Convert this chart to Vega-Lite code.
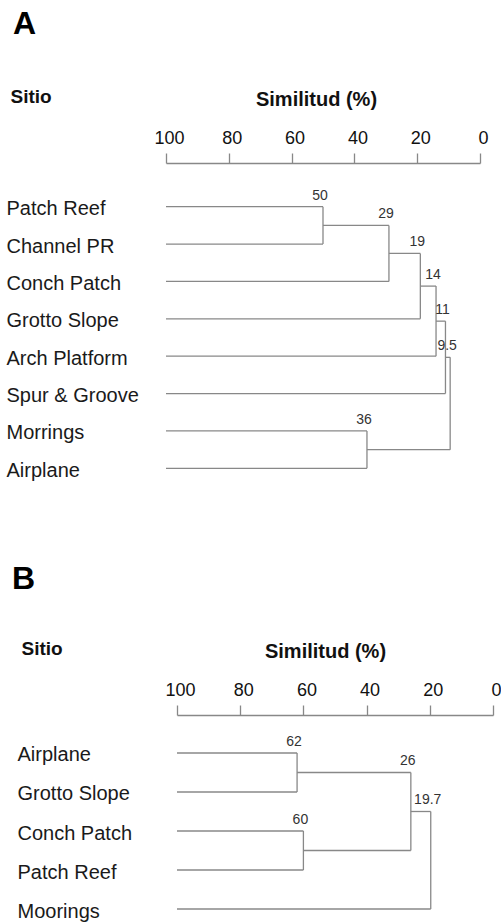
{
  "$schema": "https://vega.github.io/schema/vega-lite/v6.json",
  "background": "white",
  "padding": {"left": 6, "top": 8, "right": 0, "bottom": 0},
  "autosize": {"type": "pad"},
  "config": {"view": {"stroke": null}, "font": "Liberation Sans"},
  "datasets": {
    "leavesA": [
      {"name": "Patch Reef", "h": 100, "ph": 50},
      {"name": "Channel PR", "h": 100, "ph": 50},
      {"name": "Conch Patch", "h": 100, "ph": 29},
      {"name": "Grotto Slope", "h": 100, "ph": 19},
      {"name": "Arch Platform", "h": 100, "ph": 14},
      {"name": "Spur & Groove", "h": 100, "ph": 11},
      {"name": "Morrings", "h": 100, "ph": 36},
      {"name": "Airplane", "h": 100, "ph": 36}
    ],
    "nodesA": [
      {"h": 50, "ph": 29, "ylo": 0, "yhi": 1, "ymid": 0.5},
      {"h": 29, "ph": 19, "ylo": 0.5, "yhi": 2, "ymid": 1.25},
      {"h": 19, "ph": 14, "ylo": 1.25, "yhi": 3, "ymid": 2.125},
      {"h": 14, "ph": 11, "ylo": 2.125, "yhi": 4, "ymid": 3.0625},
      {"h": 11, "ph": 9.5, "ylo": 3.0625, "yhi": 5, "ymid": 4.03125},
      {"h": 36, "ph": 9.5, "ylo": 6, "yhi": 7, "ymid": 6.5},
      {"h": 9.5, "ph": 9.5, "ylo": 4.03125, "yhi": 6.5, "ymid": 5.265625}
    ],
    "leavesB": [
      {"name": "Airplane", "h": 100, "ph": 62},
      {"name": "Grotto Slope", "h": 100, "ph": 62},
      {"name": "Conch Patch", "h": 100, "ph": 60},
      {"name": "Patch Reef", "h": 100, "ph": 60},
      {"name": "Moorings", "h": 100, "ph": 19.7}
    ],
    "nodesB": [
      {"h": 62, "ph": 26, "ylo": 0, "yhi": 1, "ymid": 0.5},
      {"h": 60, "ph": 26, "ylo": 2, "yhi": 3, "ymid": 2.5},
      {"h": 26, "ph": 19.7, "ylo": 0.5, "yhi": 2.5, "ymid": 1.5},
      {"h": 19.7, "ph": 19.7, "ylo": 1.5, "yhi": 4, "ymid": 2.75}
    ]
  },
  "spacing": 76,
  "vconcat": [
    {
      "title": {"text": "A", "anchor": "start", "fontSize": 32, "font": "Liberation Sans", "fontWeight": "bold", "color": "#000", "dx": 7, "offset": 46},
      "width": 314,
      "height": 299,
      "layer": [
        {
          "data": {"name": "leavesA"},
          "mark": {"type": "rule", "color": "#888", "strokeWidth": 1.3},
          "encoding": {
            "y": {"field": "name", "type": "nominal", "sort": null, "scale": {"type": "point", "padding": 0.5},
              "axis": {"title": "Sitio", "titleAngle": 0, "titleAlign": "left", "titleBaseline": "middle", "titleX": -156, "titleY": -92, "titleFont": "Liberation Sans", "titleFontSize": 19, "titleFontWeight": "bold", "titleColor": "#111", "labelAlign": "left", "labelBaseline": "middle", "labelPadding": 160, "labelOffset": 2, "labelFont": "Liberation Sans", "labelFontSize": 20, "labelColor": "#1a1a1a", "ticks": false, "domain": false, "grid": false, "orient": "left"}},
            "x": {"field": "h", "type": "quantitative", "title": "Similitud (%)", "scale": {"domain": [100, 0], "nice": false, "zero": false},
              "axis": {"orient": "top", "offset": 25, "values": [100, 80, 60, 40, 20, 0], "titleFont": "Liberation Sans", "titleFontSize": 20, "titleFontWeight": "bold", "titlePadding": 20, "titleX": 150, "titleColor": "#111", "labelFont": "Liberation Sans", "labelFontSize": 18, "labelColor": "#111", "labelPadding": 6, "labelOffset": 3, "labelFlush": false, "tickSize": 10, "tickColor": "#888", "tickWidth": 1.3, "domainColor": "#888", "domainWidth": 1.3, "grid": false}},
            "x2": {"field": "ph"}
          }
        },
        {
          "data": {"name": "nodesA"},
          "mark": {"type": "rule", "color": "#888", "strokeWidth": 1.3},
          "encoding": {
            "x": {"field": "h", "type": "quantitative", "title": "Similitud (%)", "scale": {"domain": [100, 0], "nice": false, "zero": false}},
            "y": {"field": "ylo", "type": "quantitative", "scale": {"domain": [-0.5, 7.5], "reverse": true, "nice": false, "zero": false}, "axis": null},
            "y2": {"field": "yhi"}
          }
        },
        {
          "data": {"name": "nodesA"},
          "mark": {"type": "rule", "color": "#888", "strokeWidth": 1.3},
          "encoding": {
            "x": {"field": "h", "type": "quantitative", "title": "Similitud (%)", "scale": {"domain": [100, 0], "nice": false, "zero": false}},
            "x2": {"field": "ph"},
            "y": {"field": "ymid", "type": "quantitative", "scale": {"domain": [-0.5, 7.5], "reverse": true, "nice": false, "zero": false}, "axis": null}
          }
        },
        {
          "data": {"name": "nodesA"},
          "mark": {"type": "text", "font": "Liberation Sans", "fontSize": 14, "color": "#333", "baseline": "bottom", "align": "center", "dx": -3, "dy": -4},
          "encoding": {
            "x": {"field": "h", "type": "quantitative", "title": "Similitud (%)", "scale": {"domain": [100, 0], "nice": false, "zero": false}},
            "y": {"field": "ylo", "type": "quantitative", "scale": {"domain": [-0.5, 7.5], "reverse": true, "nice": false, "zero": false}, "axis": null},
            "text": {"field": "h", "type": "nominal"}
          }
        }
      ],
      "resolve": {"scale": {"y": "independent"}, "axis": {"y": "independent"}}
    },
    {
      "title": {"text": "B", "anchor": "start", "fontSize": 32, "font": "Liberation Sans", "fontWeight": "bold", "color": "#000", "dx": -5, "offset": 43},
      "width": 327,
      "height": 182,
      "layer": [
        {
          "data": {"name": "leavesB"},
          "mark": {"type": "rule", "color": "#888", "strokeWidth": 1.3},
          "encoding": {
            "y": {"field": "name", "type": "nominal", "sort": null, "scale": {"type": "point", "padding": 0.3333},
              "axis": {"title": "Sitio", "titleAngle": 0, "titleAlign": "left", "titleBaseline": "middle", "titleX": -145, "titleY": -92, "titleFont": "Liberation Sans", "titleFontSize": 19, "titleFontWeight": "bold", "titleColor": "#111", "labelAlign": "left", "labelBaseline": "middle", "labelPadding": 149, "labelOffset": 2, "labelFont": "Liberation Sans", "labelFontSize": 20, "labelColor": "#1a1a1a", "ticks": false, "domain": false, "grid": false, "orient": "left"}},
            "x": {"field": "h", "type": "quantitative", "title": "Similitud (%)", "scale": {"domain": [100, 0], "range": [11, 327], "nice": false, "zero": false},
              "axis": {"orient": "top", "offset": 25, "values": [100, 80, 60, 40, 20, 0], "titleFont": "Liberation Sans", "titleFontSize": 20, "titleFontWeight": "bold", "titlePadding": 20, "titleX": 159, "titleColor": "#111", "labelFont": "Liberation Sans", "labelFontSize": 18, "labelColor": "#111", "labelPadding": 6, "labelOffset": 3, "labelFlush": false, "tickSize": 10, "tickColor": "#888", "tickWidth": 1.3, "domainColor": "#888", "domainWidth": 1.3, "grid": false}},
            "x2": {"field": "ph"}
          }
        },
        {
          "data": {"name": "nodesB"},
          "mark": {"type": "rule", "color": "#888", "strokeWidth": 1.3},
          "encoding": {
            "x": {"field": "h", "type": "quantitative", "title": "Similitud (%)", "scale": {"domain": [100, 0], "range": [11, 327], "nice": false, "zero": false}},
            "y": {"field": "ylo", "type": "quantitative", "scale": {"domain": [-0.3333, 4.3333], "reverse": true, "nice": false, "zero": false}, "axis": null},
            "y2": {"field": "yhi"}
          }
        },
        {
          "data": {"name": "nodesB"},
          "mark": {"type": "rule", "color": "#888", "strokeWidth": 1.3},
          "encoding": {
            "x": {"field": "h", "type": "quantitative", "title": "Similitud (%)", "scale": {"domain": [100, 0], "range": [11, 327], "nice": false, "zero": false}},
            "x2": {"field": "ph"},
            "y": {"field": "ymid", "type": "quantitative", "scale": {"domain": [-0.3333, 4.3333], "reverse": true, "nice": false, "zero": false}, "axis": null}
          }
        },
        {
          "data": {"name": "nodesB"},
          "mark": {"type": "text", "font": "Liberation Sans", "fontSize": 14, "color": "#333", "baseline": "bottom", "align": "center", "dx": -3, "dy": -4},
          "encoding": {
            "x": {"field": "h", "type": "quantitative", "title": "Similitud (%)", "scale": {"domain": [100, 0], "range": [11, 327], "nice": false, "zero": false}},
            "y": {"field": "ylo", "type": "quantitative", "scale": {"domain": [-0.3333, 4.3333], "reverse": true, "nice": false, "zero": false}, "axis": null},
            "text": {"field": "h", "type": "nominal"}
          }
        }
      ],
      "resolve": {"scale": {"y": "independent"}, "axis": {"y": "independent"}}
    }
  ]
}
